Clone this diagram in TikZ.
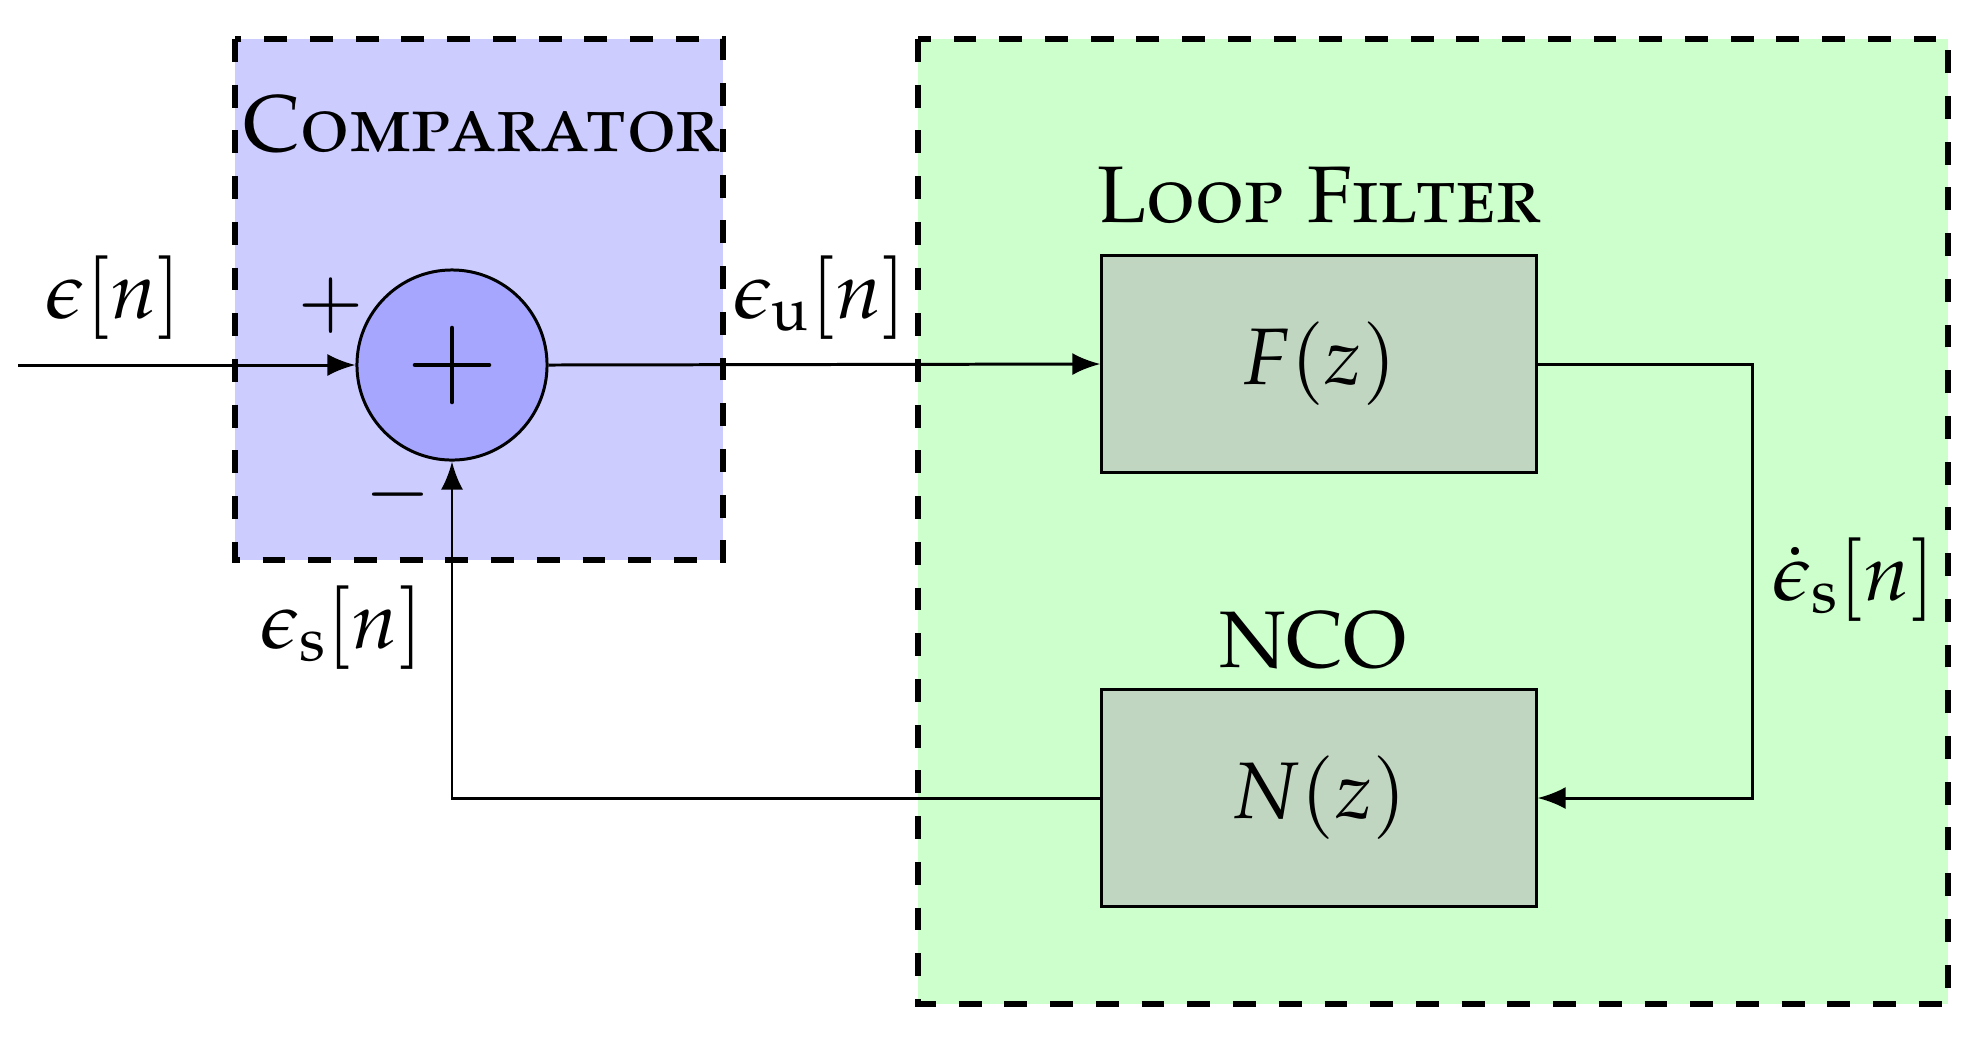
\documentclass[tikz,border=0pt]{standalone}
\usepackage[T1]{fontenc}
\usepackage[sc]{mathpazo}
\usetikzlibrary{arrows.meta,calc}
\definecolor{compfill}{RGB}{204,204,255}
\definecolor{sumfill}{RGB}{166,166,255}
\definecolor{loopfill}{RGB}{204,255,204}
\definecolor{blockfill}{RGB}{193,214,193}
\begin{document}
\begin{tikzpicture}[x=0.01cm,y=-0.01cm,
  every node/.style={font=\fontsize{22.8}{27}\selectfont, text=black},
  region/.style={draw=black, line width=1.7pt, dash pattern=on 6.5pt off 6.5pt},
  conn/.style={line width=0.85pt},
  arr/.style={conn,-{Latex[length=0.28cm,width=0.22cm]}},
  block/.style={draw, line width=0.85pt, fill=blockfill, minimum width=4.34cm, minimum height=2.16cm, inner sep=0pt},
  sumnode/.style={circle, draw, line width=0.85pt, fill=sumfill, minimum size=1.9cm, inner sep=0pt}]
\useasboundingbox (0,0) rectangle (1981,1038);
\fill[white] (0,0) rectangle (1981,1038);
% regions
\draw[region, fill=compfill] (235,39) rectangle (723,560);
\draw[region, fill=loopfill] (918,39) rectangle (1948,1004);
% labels of regions
\node[anchor=base] (lcomp) at (482,151) {\textsc{Comparator}};
\node[anchor=base] (lloop) at (1319,222) {\textsc{Loop Filter}};
\node[anchor=base] (lnco) at (1313,667) {NCO};
% blocks
\node[sumnode] (sum) at (452,365) {};
\draw[line width=1.3pt, line cap=round] ($(sum.center)+(-37,0)$) -- ($(sum.center)+(37,0)$);
\draw[line width=1.3pt, line cap=round] ($(sum.center)+(0,-37)$) -- ($(sum.center)+(0,37)$);
\node[block] (F) at (1319,364) {$F(z)$};
\node[block] (N) at (1319,798) {$N(z)$};
% signs
\node[inner sep=0pt] (lplus) at (331,306) {$+$};
\node[inner sep=0pt] (lminus) at (398,495) {$-$};
% signal labels
\node[anchor=base] (lin) at (114,318) {$\epsilon[n]$};
\node[anchor=base] (lu) at (820,318) {$\epsilon_{\mathrm{u}}[n]$};
\node[anchor=base] (ls) at (342,648) {$\epsilon_{\mathrm{s}}[n]$};
\node[anchor=base] (lsd) at (1854,600) {$\dot{\epsilon}_{\mathrm{s}}[n]$};
% connectors
\coordinate (in) at (18,365);
\coordinate (rc) at (1752,0);
\draw[arr] (in) -- (sum.west);
\draw[arr] (sum.east) -- (F.west);
\draw[arr] (F.east) -- (F.east -| rc) |- (N.east);
\draw[arr] (N.west) -| (sum.south);
\end{tikzpicture}
\end{document}
